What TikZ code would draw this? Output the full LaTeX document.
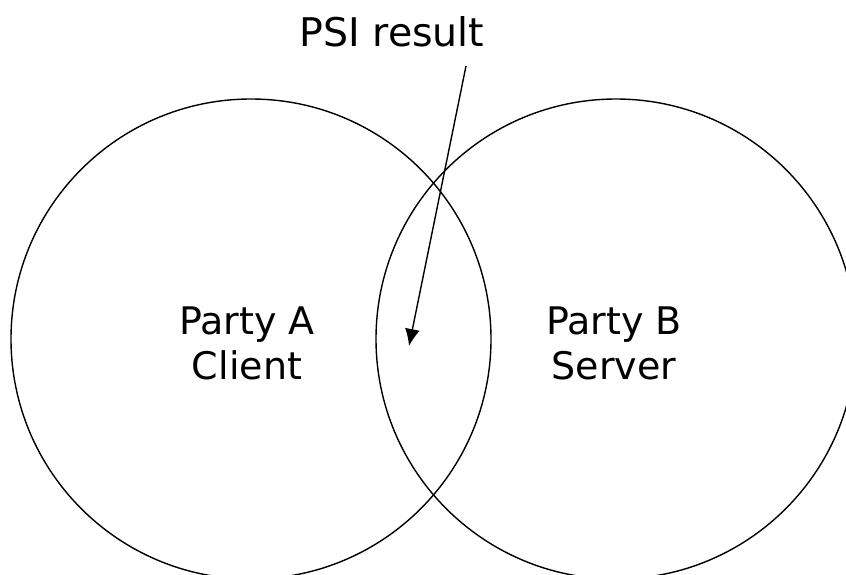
\documentclass[tikz,border=0pt]{standalone}
\usepackage{fontspec}
\setmainfont{DejaVu Sans}
\usetikzlibrary{arrows.meta}
\tikzset{
  party/.style={circle, draw=black, line width=1.4pt, minimum size=480pt, inner sep=0pt},
  lbl/.style={font=\fontsize{38}{45}\selectfont, align=center, text=black},
  pointer/.style={draw=black, line width=1.4pt, -{Latex[length=17pt,width=15pt]}}
}
\begin{document}
\begin{tikzpicture}[x=1pt,y=-1pt]
\useasboundingbox (0,0) rectangle (846,574);
\clip (0,0) rectangle (846,574);
\fill[white] (0,0) rectangle (846,574);
\node[party] (A) at (251,339) {};
\node[party] (B) at (616,339) {};
\node[lbl] (la) at (247,343) {Party A\\Client};
\node[lbl] (lb) at (614,343) {Party B\\Server};
\node[lbl, font=\fontsize{39.5}{45}\selectfont] (psi) at (392,32) {PSI result};
\coordinate (start) at (466,66);
\coordinate (tip) at (409,346);
\draw[pointer] (start) -- (tip);
\end{tikzpicture}
\end{document}
